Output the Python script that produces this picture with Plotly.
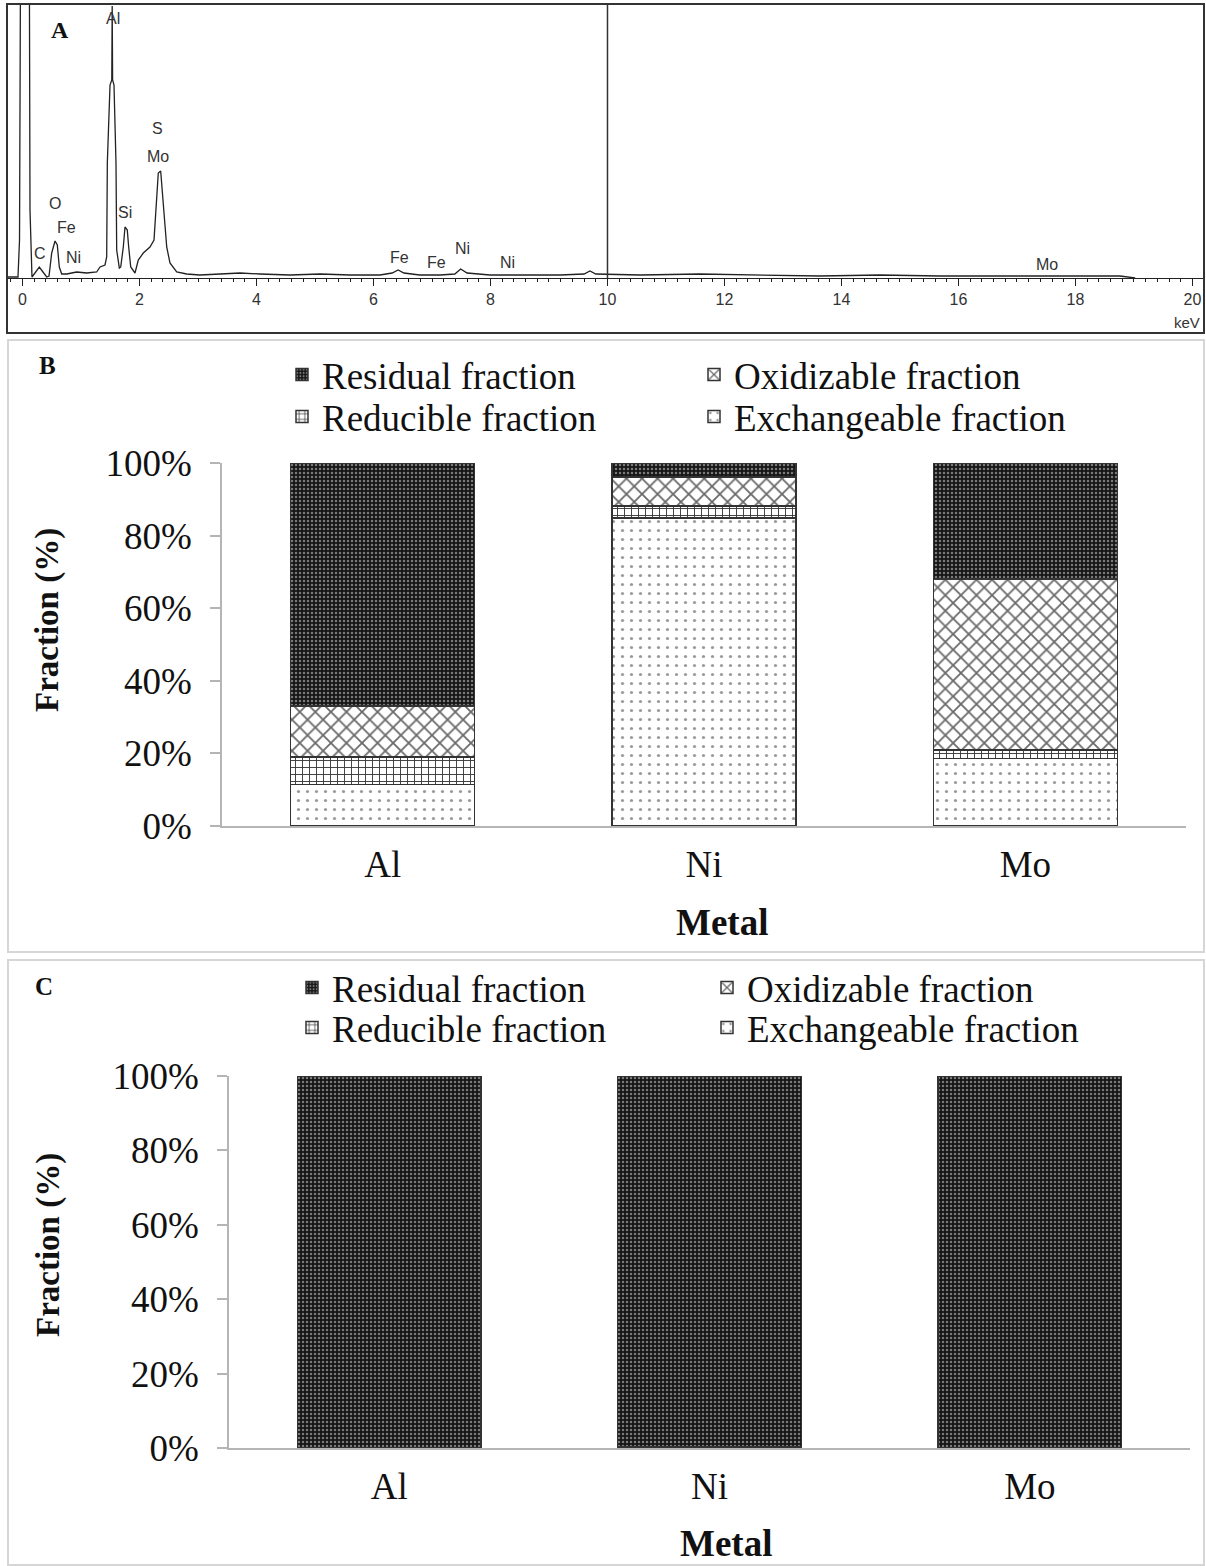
import plotly.graph_objects as go

W, H = 1206, 1566
SERIF = "Liberation Serif"
SANS = "Liberation Sans"

# ---------------- Panel A: EDS spectrum ----------------
spectrum_kev = [-0.248, -0.077, -0.051, -0.026, 0.111, 0.128, 0.162, 0.214, 0.287, 0.350,
                0.414, 0.453, 0.499, 0.556, 0.595, 0.629, 0.670, 0.756, 0.926, 1.097,
                1.268, 1.325, 1.410, 1.439, 1.450, 1.496, 1.526, 1.533, 1.540, 1.564,
                1.598, 1.610, 1.655, 1.679, 1.723, 1.752, 1.791, 1.815, 1.850, 1.923,
                1.979, 2.065, 2.179, 2.248, 2.282, 2.321, 2.362, 2.390, 2.419, 2.465,
                2.521, 2.636, 2.807, 3.03, 3.38, 3.72, 4.06, 4.57, 5.09, 5.60,
                6.11, 6.32, 6.42, 6.52, 6.79, 7.14, 7.39, 7.49, 7.60, 7.99,
                8.68, 9.19, 9.60, 9.70, 9.80, 10.56, 11.58, 12.61, 13.63, 14.66,
                15.68, 16.71, 17.74, 18.76, 19.02]
spectrum_counts = [1, 1, 38, 450, 450, 68, 1, 5, 11, 6,
                   1, 2, 25, 37, 33, 11, 4, 4, 6, 5,
                   6, 11, 13, 21, 115, 193, 198, 272, 198, 193,
                   115, 28, 10, 11, 31, 51, 48, 31, 11, 5,
                   18, 25, 31, 38, 71, 105, 107, 88, 61, 31,
                   15, 6, 4, 3, 4, 5, 4, 3, 4, 3,
                   3, 5, 8, 5, 3, 3, 4, 9, 5, 3,
                   3, 3, 4, 7, 4, 3, 4, 3, 2, 3,
                   2, 2, 2, 2, 0]
peak_labels = ["Al", "S", "Mo", "O", "Fe", "Si", "C", "Ni", "Fe", "Fe", "Ni", "Ni", "Mo"]
peak_label_kev = [1.547, 2.316, 2.316, 0.556, 0.744, 1.752, 0.299, 0.880,
                  6.436, 7.085, 7.513, 8.299, 17.513]
peak_label_counts = [259, 149, 121, 74, 50, 65, 24, 20, 20, 15, 29, 15, 13]
kev_ticks = [0, 2, 4, 6, 8, 10, 12, 14, 16, 18, 20]
marker_kev = 10

# ---------------- Panels B and C: fractionation ----------------
metals = ["Al", "Ni", "Mo"]
fraction_names = ["Exchangeable fraction", "Reducible fraction",
                  "Oxidizable fraction", "Residual fraction"]
b_exchangeable = [11.5, 84.8, 18.6]
b_reducible = [7.5, 3.4, 2.3]
b_oxidizable = [14.0, 7.9, 47.1]
b_residual = [67.0, 3.9, 32.0]
c_exchangeable = [0, 0.4, 0]
c_reducible = [0, 0, 0]
c_oxidizable = [0, 0, 0]
c_residual = [100, 99.6, 100]
pct_ticks = [0, 20, 40, 60, 80, 100]
pct_labels = ["0%", "20%", "40%", "60%", "80%", "100%"]


def px(x):
    return x / W


def py(y):
    return 1 - y / H


patterns = {
    "Exchangeable fraction": dict(shape=".", bgcolor="#ffffff", fgcolor="#9a9a9a",
                                  size=9, solidity=0.1, fillmode="replace"),
    "Reducible fraction": dict(shape="+", bgcolor="#ffffff", fgcolor="#3a3a3a",
                               size=7, solidity=0.25, fillmode="replace"),
    "Oxidizable fraction": dict(shape="x", bgcolor="#ffffff", fgcolor="#6a6a6a",
                                size=11, solidity=0.3, fillmode="replace"),
    "Residual fraction": dict(shape=".", bgcolor="#161616", fgcolor="#7a7a7a",
                              size=4, solidity=0.3, fillmode="replace"),
}

fig = go.Figure()

fig.add_trace(go.Scatter(x=spectrum_kev, y=spectrum_counts, mode="lines",
                         line=dict(color="#222222", width=1.3),
                         xaxis="x", yaxis="y", showlegend=False, hoverinfo="skip"))

b_sets = [b_exchangeable, b_reducible, b_oxidizable, b_residual]
c_sets = [c_exchangeable, c_reducible, c_oxidizable, c_residual]
legend_ids_b = {"Residual fraction": "legend", "Oxidizable fraction": "legend2",
                "Reducible fraction": "legend3", "Exchangeable fraction": "legend4"}
legend_ids_c = {"Residual fraction": "legend5", "Oxidizable fraction": "legend6",
                "Reducible fraction": "legend7", "Exchangeable fraction": "legend8"}

for name, vals in zip(fraction_names, b_sets):
    fig.add_trace(go.Bar(x=metals, y=vals, name=name, xaxis="x2", yaxis="y2",
                         marker=dict(color="#ffffff", pattern=patterns[name],
                                     line=dict(color="#333333", width=1.5)),
                         legend=legend_ids_b[name], hoverinfo="skip"))
for name, vals in zip(fraction_names, c_sets):
    fig.add_trace(go.Bar(x=metals, y=vals, name=name, xaxis="x3", yaxis="y3",
                         marker=dict(color="#ffffff", pattern=patterns[name],
                                     line=dict(color="#333333", width=1.5)),
                         legend=legend_ids_c[name], hoverinfo="skip"))

FS = 37
bar_x_common = dict(showline=True, linecolor="#b5b5b5", linewidth=1.5, ticks="",
                    showgrid=False, zeroline=False, automargin=False,
                    tickfont=dict(family=SERIF, size=FS, color="#111111"),
                    ticklabelstandoff=5)
bar_y_common = dict(range=[0, 100], tickmode="array", tickvals=pct_ticks, ticktext=pct_labels,
                    showline=True, linecolor="#b5b5b5", linewidth=1.5,
                    ticks="outside", ticklen=10, tickcolor="#b5b5b5", tickwidth=1.5,
                    showgrid=False, zeroline=False, automargin=False,
                    tickfont=dict(family=SERIF, size=FS, color="#111111"),
                    ticklabelstandoff=11)

fig.update_layout(
    width=W, height=H,
    margin=dict(l=0, r=0, t=0, b=0, pad=0, autoexpand=False),
    paper_bgcolor="white", plot_bgcolor="white",
    barmode="stack", bargap=0.427,
    xaxis=dict(domain=[px(8), px(1204)], range=[-0.248, 20.197], anchor="y",
               showline=True, linecolor="#222222", linewidth=1,
               ticks="outside", ticklen=7, tickcolor="#222222",
               tickvals=kev_ticks, showgrid=False, zeroline=False, automargin=False,
               tickfont=dict(family=SANS, size=16, color="#333333"),
               minor=dict(tick0=0, dtick=0.2, ticks="outside", ticklen=3,
                          tickcolor="#222222", showgrid=False)),
    yaxis=dict(domain=[py(278), py(5)], range=[0, 273], visible=False,
               anchor="x", automargin=False),
    xaxis2=dict(domain=[px(222), px(1186)], anchor="y2", **bar_x_common),
    yaxis2=dict(domain=[py(826), py(463)], anchor="x2", **bar_y_common),
    xaxis3=dict(domain=[px(229), px(1190)], anchor="y3", **bar_x_common),
    yaxis3=dict(domain=[py(1448), py(1076)], anchor="x3", **bar_y_common),
)

legend_pos = {
    "legend": (282, 375), "legend2": (694, 375), "legend3": (282, 417), "legend4": (694, 417),
    "legend5": (292, 988), "legend6": (707, 988), "legend7": (292, 1028), "legend8": (707, 1028),
}
for lid, (lx, ly) in legend_pos.items():
    fig.update_layout({lid: dict(x=px(lx), y=py(ly), xanchor="left", yanchor="middle",
                                 xref="paper", yref="paper", bgcolor="rgba(0,0,0,0)",
                                 itemwidth=30,
                                 font=dict(family=SERIF, size=FS, color="#111111"))})

shapes = [
    dict(type="rect", xref="paper", yref="paper", x0=px(7), x1=px(1204), y0=py(333), y1=py(4),
         line=dict(color="#333333", width=2)),
    dict(type="rect", xref="paper", yref="paper", x0=px(8), x1=px(1204), y0=py(952), y1=py(340),
         line=dict(color="#d6d6d6", width=2)),
    dict(type="rect", xref="paper", yref="paper", x0=px(8), x1=px(1204), y0=py(1565), y1=py(960),
         line=dict(color="#d6d6d6", width=2)),
    dict(type="line", xref="x", yref="y domain", x0=marker_kev, x1=marker_kev, y0=0, y1=1,
         line=dict(color="#333333", width=1.5)),
]

annotations = []
for lab, kx, cy in zip(peak_labels, peak_label_kev, peak_label_counts):
    annotations.append(dict(text=lab, x=kx, y=cy, xref="x", yref="y", showarrow=False,
                            xanchor="center", yanchor="middle",
                            font=dict(family=SANS, size=16, color="#333333")))


def paper_text(text, x, y, size, family=SERIF, angle=0, color="#111111"):
    return dict(text=text, x=px(x), y=py(y), xref="paper", yref="paper", showarrow=False,
                xanchor="center", yanchor="middle", textangle=angle,
                font=dict(family=family, size=size, color=color))


annotations += [
    paper_text("keV", 1187, 322, 15, family=SANS, color="#333333"),
    paper_text("<b>A</b>", 60, 30, 24),
    paper_text("<b>B</b>", 47, 366, 25),
    paper_text("<b>C</b>", 44, 986, 25),
    paper_text("<b>Fraction (%)</b>", 48, 620, 33, angle=-90),
    paper_text("<b>Fraction (%)</b>", 48, 1245, 33, angle=-90),
    paper_text("<b>Metal</b>", 722, 922, FS),
    paper_text("<b>Metal</b>", 726, 1543, FS),
]

fig.update_layout(shapes=shapes, annotations=annotations)
fig.write_html("out.html", config={"displayModeBar": False},
               post_script="document.body.style.margin='0';document.body.style.overflow='hidden';")
